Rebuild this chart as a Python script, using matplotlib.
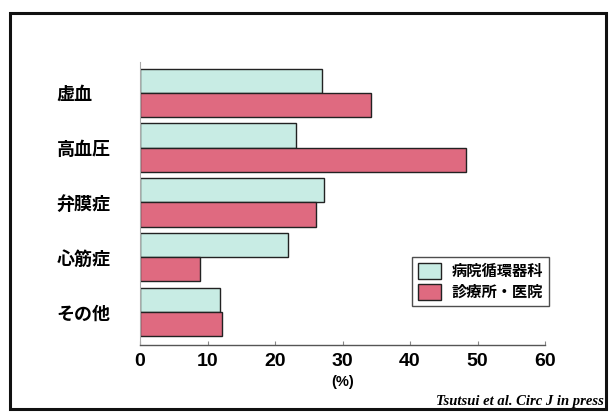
import matplotlib
matplotlib.use("Agg")
import matplotlib.pyplot as plt
from matplotlib.patches import Rectangle
import numpy as np

plt.rcParams["font.family"] = ["Noto Sans CJK JP", "DejaVu Sans"]

categories = ["虚血", "高血圧", "弁膜症", "心筋症", "その他"]
hospital = [27.0, 23.1, 27.3, 21.9, 11.9]   # 病院循環器科
clinic = [34.2, 48.3, 26.1, 8.9, 12.1]      # 診療所・医院
series_names = ["病院循環器科", "診療所・医院"]
xticks = [0, 10, 20, 30, 40, 50, 60]

GREEN = "#c8ece4"
RED = "#df6a80"

fig = plt.figure(figsize=(6.15, 4.19), dpi=100)
ax = fig.add_axes([140/615, 1-345/419, 405/615, 283/419])

y = np.arange(len(categories))
h = 0.44
ax.barh(y - h/2, hospital, height=h, color=GREEN, edgecolor="#222222", lw=1.0, label=series_names[0])
ax.barh(y + h/2, clinic, height=h, color=RED, edgecolor="#222222", lw=1.0, label=series_names[1])

ax.set_xlim(0, 60)
ax.set_ylim(4.6, -0.56)
ax.set_yticks(y)
ax.set_yticklabels(categories, fontsize=13, fontweight="bold", ha="left")
ax.tick_params(axis="y", length=0, pad=60)
ax.set_xticks(xticks)
ax.set_xticklabels([str(t) for t in xticks], fontsize=14, fontweight="bold", family="Liberation Sans")
ax.tick_params(axis="x", direction="in", length=3, color="#888888", pad=6)
ax.set_xlabel("(%)", fontsize=10.5, fontweight="bold", family="Liberation Sans", labelpad=3)
for s in ["top", "right"]:
    ax.spines[s].set_visible(False)
ax.spines["left"].set_color("#aaaaaa")
ax.spines["left"].set_linewidth(0.8)
ax.spines["bottom"].set_color("#555555")
ax.spines["bottom"].set_linewidth(1.0)

leg = ax.legend(loc="lower right", bbox_to_anchor=(549/615, 1-306/419), bbox_transform=fig.transFigure,
                prop={"family": ["Noto Sans CJK JP"], "weight": "bold", "size": 11},
                frameon=True, fancybox=False, edgecolor="#222222", handlelength=1.5, handleheight=1.2,
                borderpad=0.4, labelspacing=0.3, handletextpad=0.7, borderaxespad=0)
leg.get_frame().set_linewidth(1.0)

# outer frame
fig.patches.append(Rectangle((10/615, 1-409/419), 596/615, 396/419, transform=fig.transFigure,
                             fill=False, ec="#111111", lw=2.2))
fig.text(604/615, 1-405/419, "Tsutsui et al. Circ J in press", ha="right", va="baseline",
         fontsize=10.5, style="italic", fontweight="bold", family="Liberation Serif")

fig.savefig("out.png", dpi=100)
